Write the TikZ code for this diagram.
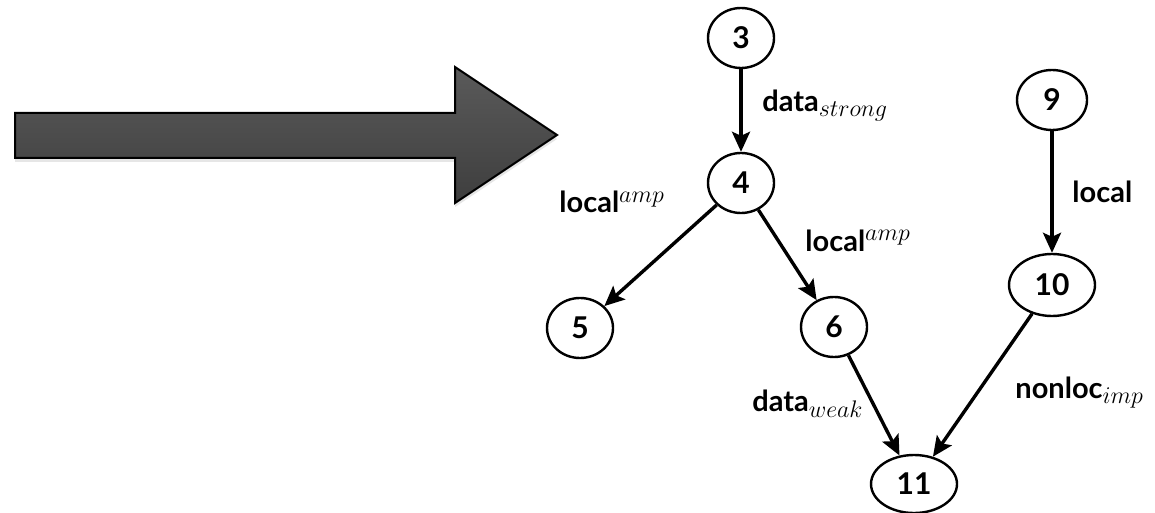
\documentclass[tikz,border=0pt]{standalone}
\usepackage{fontspec}
\setmainfont{Lato}
\usepackage{tikz}
\usetikzlibrary{arrows.meta, shapes.geometric, shadows, positioning}

\newcommand{\edgesc}[1]{\mbox{\fontsize{13}{15}\selectfont$#1$}}

\begin{document}
\begin{tikzpicture}[x=0.5pt, y=-0.5pt,
    state/.style={draw, ellipse, line width=1.2pt, inner sep=0pt,
      minimum width=33pt, minimum height=30pt,
      font=\fontsize{15}{17}\selectfont\bfseries},
    wide/.style={minimum width=43pt},
    elabel/.style={anchor=base west, inner sep=0pt,
      font=\fontsize{14.5}{16}\selectfont\bfseries},
    flow/.style={-{Stealth[length=10pt, width=9pt, inset=2pt]}, line width=1.7pt}]
    % Colors of the big arrow
    \definecolor{arrowtop}{RGB}{90,90,90}
    \definecolor{arrowbot}{RGB}{62,62,62}

    \useasboundingbox (0,0) rectangle (1155,513);

    % Big arrow
    \draw[line width=1pt, top color=arrowtop, bottom color=arrowbot,
      drop shadow={shadow xshift=0pt, shadow yshift=-2pt, opacity=0.2}]
      (15,113) -- (455,113) -- (455,67) -- (557,135) -- (455,203)
      -- (455,158) -- (15,158) -- cycle;

    % States
    \node[state] (n3) at (741,38) {3};
    \node[state] (n4) at (741,183) {4};
    \node[state] (n5) at (580,328) {5};
    \node[state] (n6) at (834,327) {6};
    \node[state, minimum width=35pt] (n9) at (1052,100) {9};
    \node[state, wide, minimum height=31pt] (n10) at (1052,285) {10};
    \node[state, wide, minimum height=29pt] (n11) at (914,484) {11};

    % Edge labels
    \node[elabel] (lstrong) at (762,112) {data$_{\edgesc{strong}}$};
    \node[elabel] (lampleft) at (559,213) {local$^{\edgesc{amp}}$};
    \node[elabel] (lampright) at (805,251) {local$^{\edgesc{amp}}$};
    \node[elabel] (llocal) at (1072,203) {local};
    \node[elabel] (lweak) at (752,411) {data$_{\edgesc{weak}}$};
    \node[elabel] (limp) at (1015,398) {nonloc$_{\edgesc{imp}}$};

    % Edges
    \draw[flow] (n3) -- (n4);
    \draw[flow] (n4) -- (n5);
    \draw[flow] (n4) -- (n6);
    \draw[flow] (n6) -- (n11);
    \draw[flow] (n9) -- (n10);
    \draw[flow] (n10) -- (n11);
\end{tikzpicture}
\end{document}
